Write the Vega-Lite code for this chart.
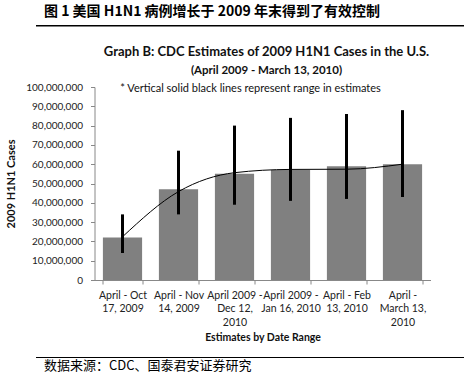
{
  "$schema": "https://vega.github.io/schema/vega-lite/v6.json",
  "padding": {"left": 5, "top": 5, "right": 0, "bottom": 0},
  "background": "white",
  "config": {"font": "Lato", "view": {"stroke": null}},
  "center": true,
  "spacing": 16,
  "vconcat": [
    {
      "center": true,
      "vconcat": [
        {
          "width": 453,
          "height": 1.5,
          "title": {"text": "图 1 美国 H1N1 病例增长于 2009 年末得到了有效控制", "anchor": "start", "dx": 8, "font": "Noto Sans CJK SC", "fontSize": 14, "fontWeight": "bold", "offset": 4, "color": "#000"},
          "view": {"fill": "#000", "stroke": null},
          "data": {"values": [{"a": 1}]},
          "mark": {"type": "point", "opacity": 0},
          "encoding": {}
        }
      ]
    },
    {
      "center": true,
      "spacing": 11,
      "vconcat": [
        {
          "width": 336,
          "height": 193,
          "title": {"text": "Graph B: CDC Estimates of 2009 H1N1 Cases in the U.S.", "subtitle": "(April 2009 - March 13, 2010)", "font": "Lato", "fontSize": 13, "fontWeight": "bold", "color": "#111", "subtitleFont": "Lato", "subtitleFontSize": 11.5, "subtitleFontWeight": "bold", "subtitleColor": "#111", "dx": 4, "offset": 6, "subtitlePadding": 6, "anchor": "middle"},
          "data": {"values": [
            {"range": "April - Oct|17, 2009", "cases": 22000000, "low": 14000000, "high": 34000000, "trend": 22400000},
            {"range": "April - Nov|14, 2009", "cases": 47000000, "low": 34000000, "high": 67000000, "trend": 45800000},
            {"range": "April 2009 -|Dec 12,|2010", "cases": 55000000, "low": 39000000, "high": 80000000, "trend": 55600000},
            {"range": "April 2009 -|Jan 16, 2010", "cases": 57000000, "low": 41000000, "high": 84000000, "trend": 57300000},
            {"range": "April - Feb|13, 2010", "cases": 59000000, "low": 42000000, "high": 86000000, "trend": 57400000},
            {"range": "April -|March 13,|2010", "cases": 60000000, "low": 43000000, "high": 88000000, "trend": 60000000}
          ]},
          "encoding": {
            "x": {
              "field": "range", "type": "nominal", "sort": null,
              "scale": {"paddingInner": 0.3, "paddingOuter": 0.15},
              "axis": {"title": "Estimates by Date Range", "titleFontWeight": "bold", "titleFontSize": 10.5, "titleColor": "#111", "titlePadding": 5, "labelExpr": "datum.value ? split(datum.value, '|') : ''", "labelAngle": 0, "labelFontSize": 10.5, "labelLineHeight": 13.5, "labelColor": "#222", "tickBand": "extent", "tickSize": 4, "domainColor": "#888", "tickColor": "#888", "labelPadding": 6}
            },
            "y": {
              "type": "quantitative",
              "scale": {"domain": [0, 100000000]},
              "axis": {"title": "2009 H1N1 Cases", "titleFontWeight": "bold", "titleFontSize": 11, "titleColor": "#111", "titlePadding": 9, "format": ",d", "tickCount": 10, "labelOverlap": false, "labelFontSize": 10, "labelColor": "#222", "domainColor": "#888", "tickColor": "#888", "tickSize": 4, "labelPadding": 8, "grid": false}
            }
          },
          "layer": [
            {
              "mark": {"type": "bar", "color": "#808080"},
              "encoding": {"y": {"field": "cases", "type": "quantitative"}}
            },
            {
              "mark": {"type": "rule", "strokeWidth": 3, "color": "#000"},
              "encoding": {"y": {"field": "low", "type": "quantitative"}, "y2": {"field": "high"}}
            },
            {
              "mark": {"type": "line", "interpolate": "monotone", "color": "#000", "strokeWidth": 1},
              "encoding": {"y": {"field": "trend", "type": "quantitative"}}
            },
            {
              "data": {"values": [{"note": "* Vertical solid black lines represent range in estimates"}]},
              "mark": {"type": "text", "font": "Lato", "fontSize": 11, "color": "#111", "dx": 16},
              "encoding": {"x": {"datum": "April 2009 -|Dec 12,|2010"}, "y": {"datum": 99000000}, "text": {"field": "note"}}
            }
          ]
        },
        {
          "width": 453,
          "height": 1,
          "title": {"text": "数据来源：CDC、国泰君安证券研究", "orient": "bottom", "anchor": "start", "dx": 8, "font": "Noto Sans CJK SC", "fontSize": 13, "fontWeight": "normal", "offset": 0, "color": "#000"},
          "view": {"fill": "#000", "stroke": null},
          "data": {"values": [{"a": 1}]},
          "mark": {"type": "point", "opacity": 0},
          "encoding": {}
        }
      ]
    }
  ]
}
